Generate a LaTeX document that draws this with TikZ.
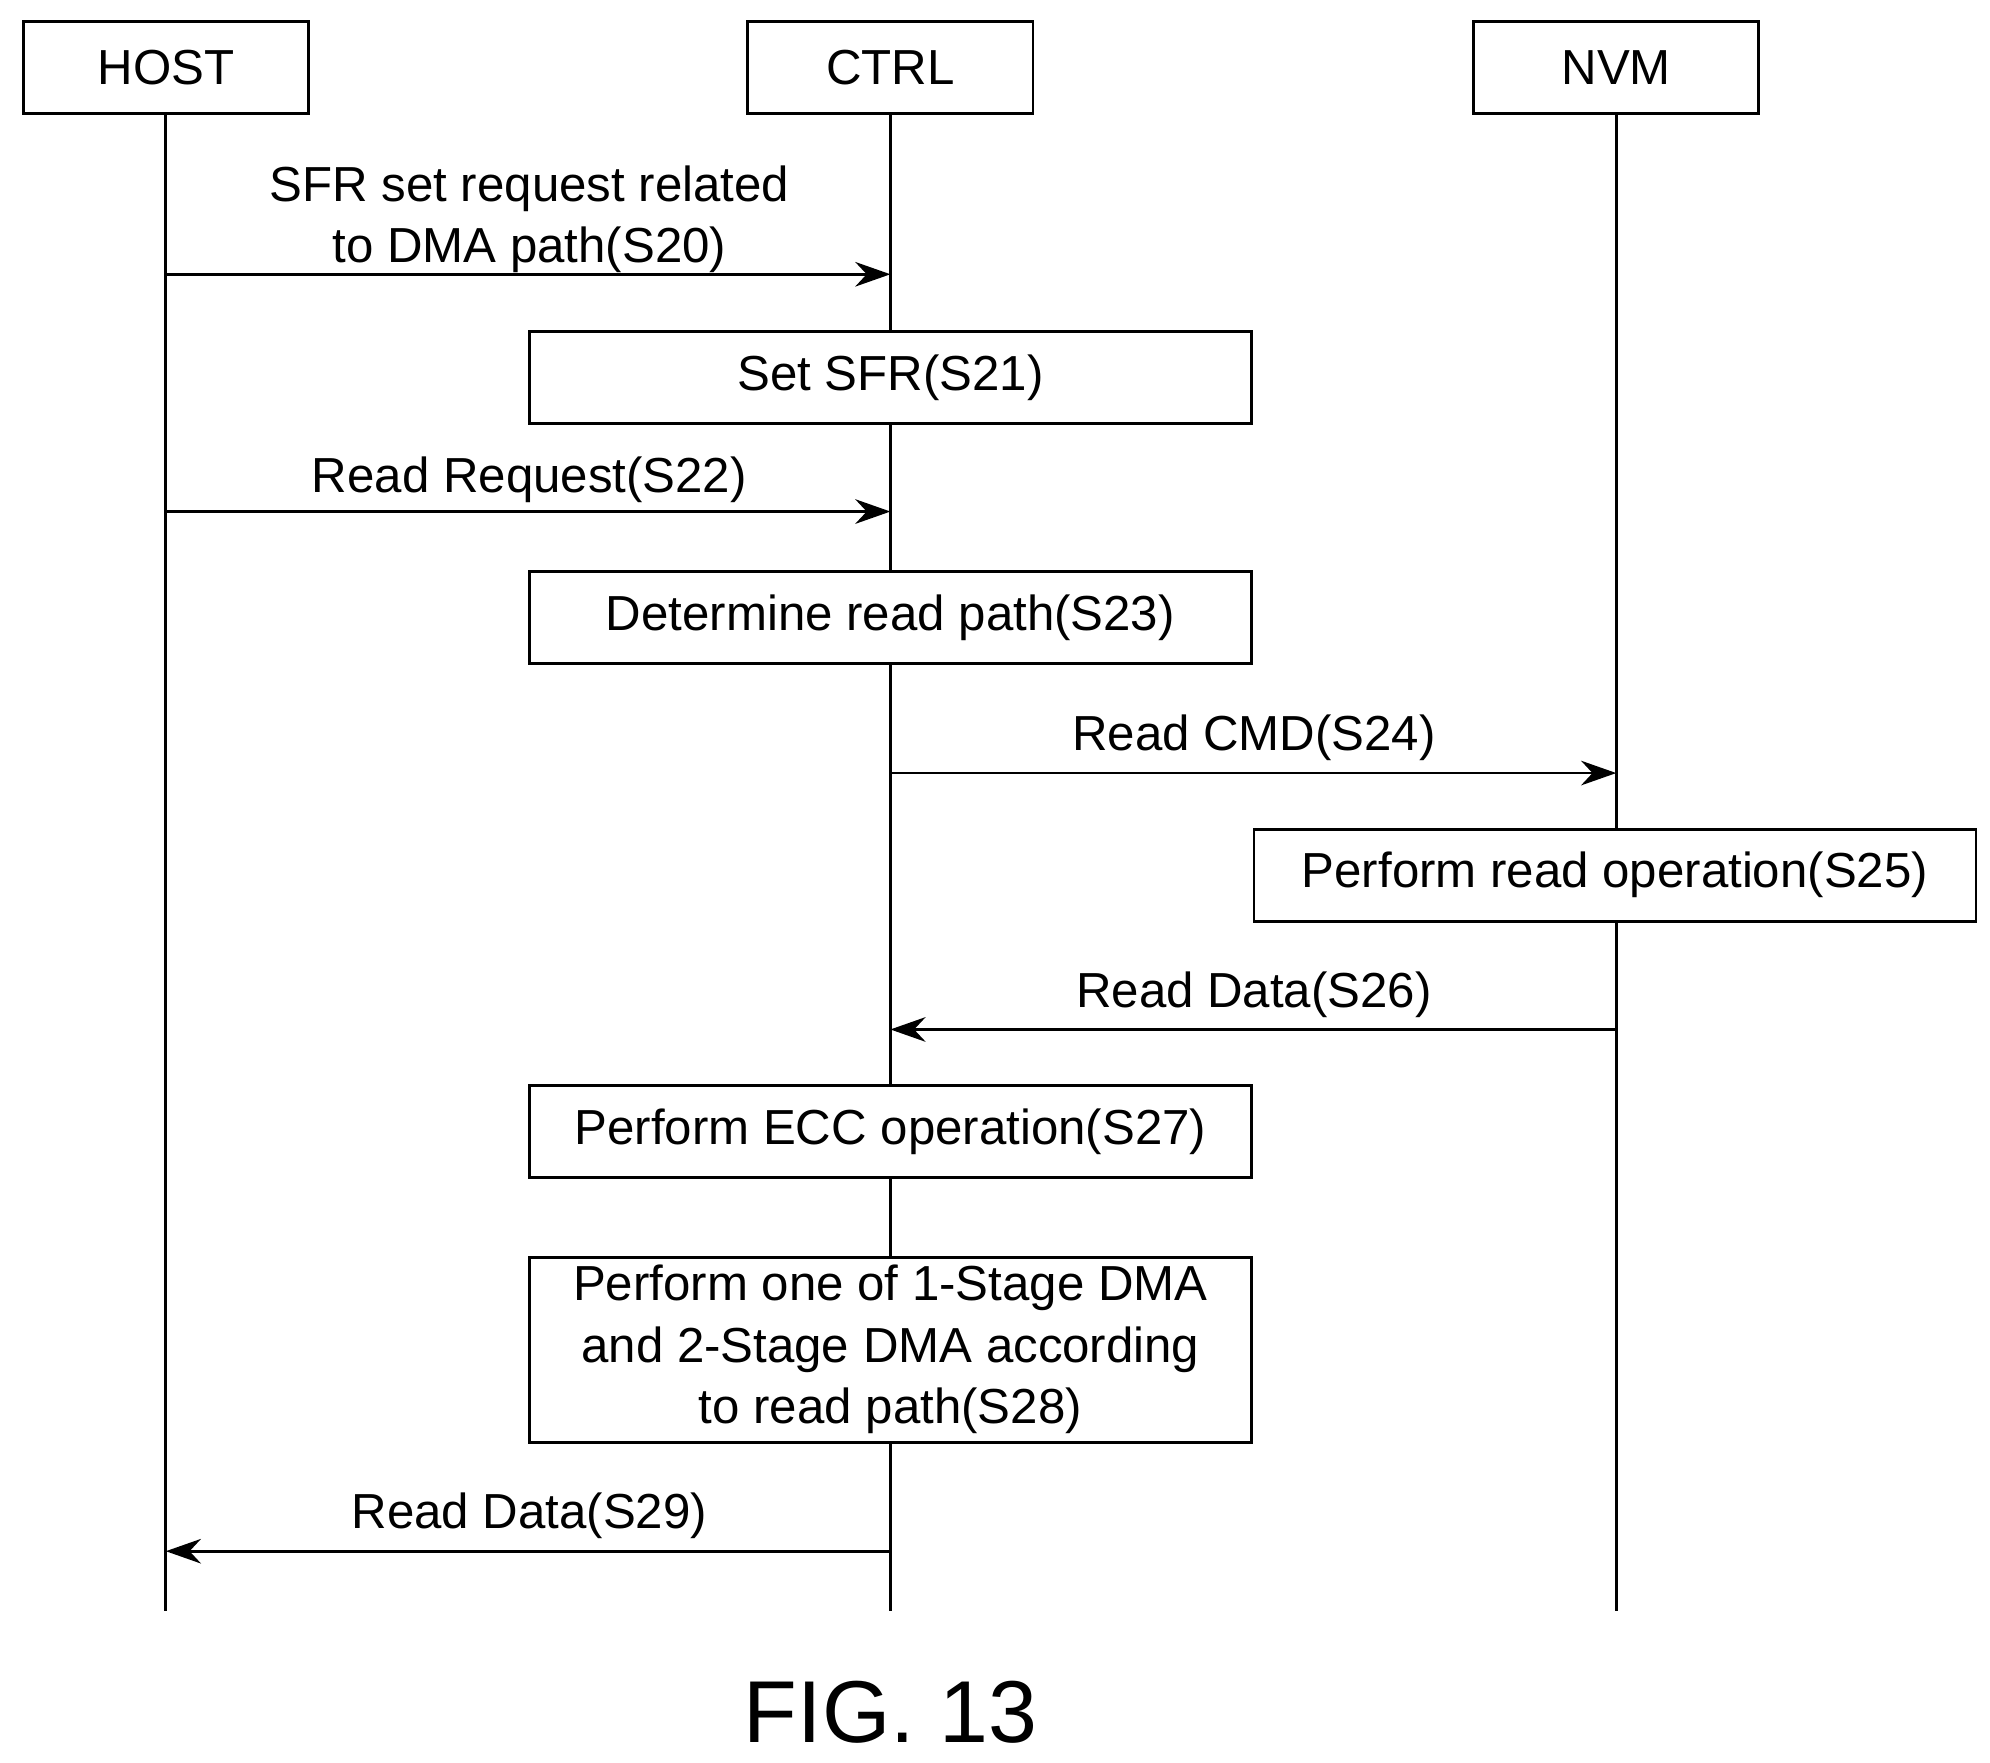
\documentclass[tikz,border=0pt]{standalone}
\usepackage{fontspec}
\setmainfont{Liberation Sans}
\usetikzlibrary{arrows.meta}
\begin{document}
\begin{tikzpicture}[x=0.01276cm,y=-0.01276cm,
  box/.style={draw,line width=0.8pt,fill=white,minimum height=0.92cm,inner sep=0pt,font=\fontsize{14}{17.5}\selectfont},
  msg/.style={line width=0.8pt,-{Stealth[length=10pt,width=7pt]}},
  lab/.style={font=\fontsize{14}{17.5}\selectfont,align=center},
  life/.style={line width=0.8pt}]
\useasboundingbox (0,0) rectangle (1560,1382);
\node[box,minimum width=2.85cm] (host) at (130,53) {HOST};
\node[box,minimum width=2.85cm] (ctrl) at (698,53) {CTRL};
\node[box,minimum width=2.85cm] (nvm) at (1267,53) {NVM};
\coordinate (hb) at (130,1263);
\coordinate (cb) at (698,1263);
\coordinate (nb) at (1267,1263);
\draw[life] (host) -- (hb);
\draw[life] (ctrl) -- (cb);
\draw[life] (nvm) -- (nb);
\coordinate (h20) at (130,215); \coordinate (c20) at (698,215);
\draw[msg] (h20) -- (c20);
\node[lab] (l20) at (415,172) {SFR set request related\\to DMA path(S20)};
\node[box,minimum width=7.22cm] (s21) at (698,296) {Set SFR(S21)};
\coordinate (h22) at (130,401); \coordinate (c22) at (698,401);
\draw[msg] (h22) -- (c22);
\node[lab] (l22) at (415,376) {Read Request(S22)};
\node[box,minimum width=7.22cm] (s23) at (698,484) {Determine read path(S23)};
\coordinate (c24) at (698,606); \coordinate (n24) at (1267,606);
\draw[msg] (c24) -- (n24);
\node[lab] (l24) at (983,578) {Read CMD(S24)};
\node[box,minimum width=7.22cm] (s25) at (1266,686) {Perform read operation(S25)};
\coordinate (n26) at (1267,807); \coordinate (c26) at (698,807);
\draw[msg] (n26) -- (c26);
\node[lab] (l26) at (983,780) {Read Data(S26)};
\node[box,minimum width=7.22cm] (s27) at (698,887) {Perform ECC operation(S27)};
\node[box,minimum width=7.22cm,minimum height=1.85cm,align=center] (s28) at (698,1058) {Perform one of 1-Stage DMA\\and 2-Stage DMA according\\to read path(S28)};
\coordinate (c29) at (698,1216); \coordinate (h29) at (130,1216);
\draw[msg] (c29) -- (h29);
\node[lab] (l29) at (415,1188) {Read Data(S29)};
\node[font=\fontsize{25}{28}\selectfont] (fig) at (698,1342) {FIG. 13};
\end{tikzpicture}
\end{document}
